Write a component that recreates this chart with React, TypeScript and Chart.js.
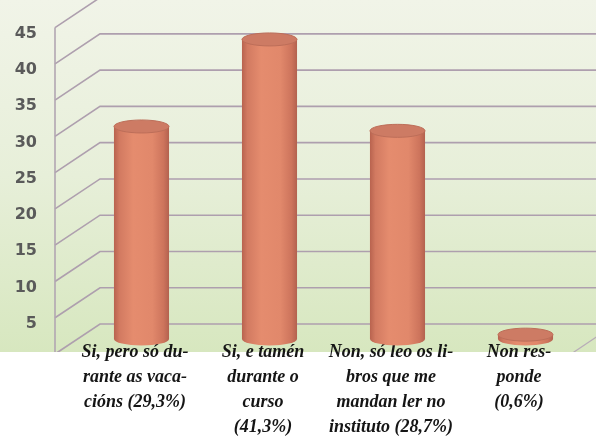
import React, { useEffect, useRef } from 'react';
import { Chart, registerables } from 'chart.js';

Chart.register(...registerables);

// ---- data ----
const categories: string[][] = [
  ['Si, pero só du-', 'rante as vaca-', 'cións (29,3%)'],
  ['Si, e tamén', 'durante o', 'curso', '(41,3%)'],
  ['Non, só leo os li-', 'bros que me', 'mandan ler no', 'instituto (28,7%)'],
  ['Non res-', 'ponde', '(0,6%)'],
];
const values: number[] = [29.3, 41.3, 28.7, 0.6];
const yMin = 0;
const yMax = 45;
const yStep = 5;

// ---- styling constants ----
const DEPTH_X = 45;
const DEPTH_Y = 30;

const depthPlugin = {
  id: 'depth3d',
  beforeDraw(chart: any) {
    const { ctx, chartArea, scales, width, height } = chart;
    const ys = scales.y;
    const whiteTop = chartArea.bottom - 2;
    ctx.save();
    const g = ctx.createLinearGradient(0, 0, 0, whiteTop);
    g.addColorStop(0, '#f1f4e8');
    g.addColorStop(0.5, '#e7efd9');
    g.addColorStop(1, '#d7e7bf');
    ctx.fillStyle = g;
    ctx.fillRect(0, 0, width, whiteTop);

    // 3D grid: diagonal from front axis to back wall, then horizontal
    const left = chartArea.left;
    ctx.beginPath();
    ys.ticks.forEach((t: any) => {
      const py = ys.getPixelForValue(t.value);
      ctx.moveTo(left, py);
      ctx.lineTo(left + DEPTH_X, py - DEPTH_Y);
      ctx.lineTo(width, py - DEPTH_Y);
    });
    ctx.strokeStyle = '#ae9fae';
    ctx.lineWidth = 1.6;
    ctx.stroke();

    // front vertical axis
    ctx.beginPath();
    ctx.moveTo(left, ys.getPixelForValue(yMax));
    ctx.lineTo(left, ys.getPixelForValue(yMin));
    ctx.strokeStyle = '#b2a6b2';
    ctx.lineWidth = 1.6;
    ctx.stroke();

    // floor right edge
    ctx.beginPath();
    ctx.moveTo(chartArea.right + 4, chartArea.bottom);
    ctx.lineTo(chartArea.right + 4 + DEPTH_X, chartArea.bottom - DEPTH_Y);
    ctx.strokeStyle = '#b8acb8';
    ctx.lineWidth = 1.2;
    ctx.stroke();

    ctx.fillStyle = '#ffffff';
    ctx.fillRect(0, whiteTop, width, height - whiteTop);
    ctx.restore();
  },
  beforeDatasetsDraw(chart: any) {
    const { ctx } = chart;
    ctx.save();
    ctx.translate(DEPTH_X / 2, -DEPTH_Y / 2);
  },
  afterDatasetsDraw(chart: any) {
    const { ctx } = chart;
    const meta = chart.getDatasetMeta(0);
    meta.data.forEach((bar: any) => {
      const { x, y, base, width } = bar.getProps(['x', 'y', 'base', 'width'], true);
      const l = x - width / 2;
      const r = x + width / 2;
      const rx = width / 2;
      const ry = 6.5;
      const g = ctx.createLinearGradient(l, 0, r, 0);
      g.addColorStop(0, '#b8634f');
      g.addColorStop(0.1, '#d27a61');
      g.addColorStop(0.35, '#e58c6e');
      g.addColorStop(0.7, '#e1886b');
      g.addColorStop(0.9, '#cd745c');
      g.addColorStop(1, '#b3624f');
      ctx.beginPath();
      ctx.moveTo(l, y);
      ctx.lineTo(l, base);
      ctx.ellipse(x, base, rx, ry, 0, Math.PI, 0, true);
      ctx.lineTo(r, y);
      ctx.closePath();
      ctx.fillStyle = g;
      ctx.fill();

      ctx.beginPath();
      ctx.ellipse(x, y, rx, ry, 0, 0, Math.PI * 2);
      ctx.fillStyle = '#cd7b64';
      ctx.fill();
      ctx.strokeStyle = '#bd6e59';
      ctx.lineWidth = 1;
      ctx.stroke();
    });
    ctx.restore();
  },
};

export default function App() {
  const canvasRef = useRef<HTMLCanvasElement | null>(null);

  useEffect(() => {
    if (!canvasRef.current) return;
    const chart = new Chart(canvasRef.current, {
      type: 'bar',
      data: {
        labels: categories as any,
        datasets: [
          {
            data: values,
            backgroundColor: '#dc8066',
            borderWidth: 0,
            barPercentage: 1,
            categoryPercentage: 0.43,
          },
        ],
      },
      options: {
        animation: false,
        responsive: false,
        devicePixelRatio: 1,
        layout: { padding: { top: 27, right: 29, left: 0, bottom: 0 } },
        plugins: { legend: { display: false }, tooltip: { enabled: false } },
        scales: {
          x: {
            offset: true,
            grid: { display: false, drawTicks: false },
            border: { display: false },
            ticks: {
              autoSkip: false,
              maxRotation: 0,
              minRotation: 0,
              padding: -14,
              labelOffset: 16,
              color: '#151515',
              font: { family: 'Liberation Serif', size: 18, style: 'italic', weight: 'bold', lineHeight: 1.39 },
            },
            afterFit: (s: any) => {
              s.height = 89;
              // let the category labels rise slightly above the axis box
              s._computeLabelArea = () => undefined;
            },
          },
          y: {
            min: yMin,
            max: yMax,
            grid: { display: false, drawTicks: false },
            border: { display: false },
            ticks: {
              stepSize: yStep,
              padding: 18,
              labelOffset: 6,
              color: '#5a5a5a',
              font: { family: 'DejaVu Sans', size: 16, weight: 'bold' },
              callback: (v: any) => (Number(v) === 0 ? '' : String(v)),
            },
            afterFit: (s: any) => {
              s.width = 55;
            },
          },
        },
      },
      plugins: [depthPlugin],
    });
    return () => chart.destroy();
  }, []);

  return (
    <div style={{ position: 'absolute', left: 0, top: 0, width: 596, height: 443 }}>
      <canvas ref={canvasRef} width={596} height={443} />
    </div>
  );
}
